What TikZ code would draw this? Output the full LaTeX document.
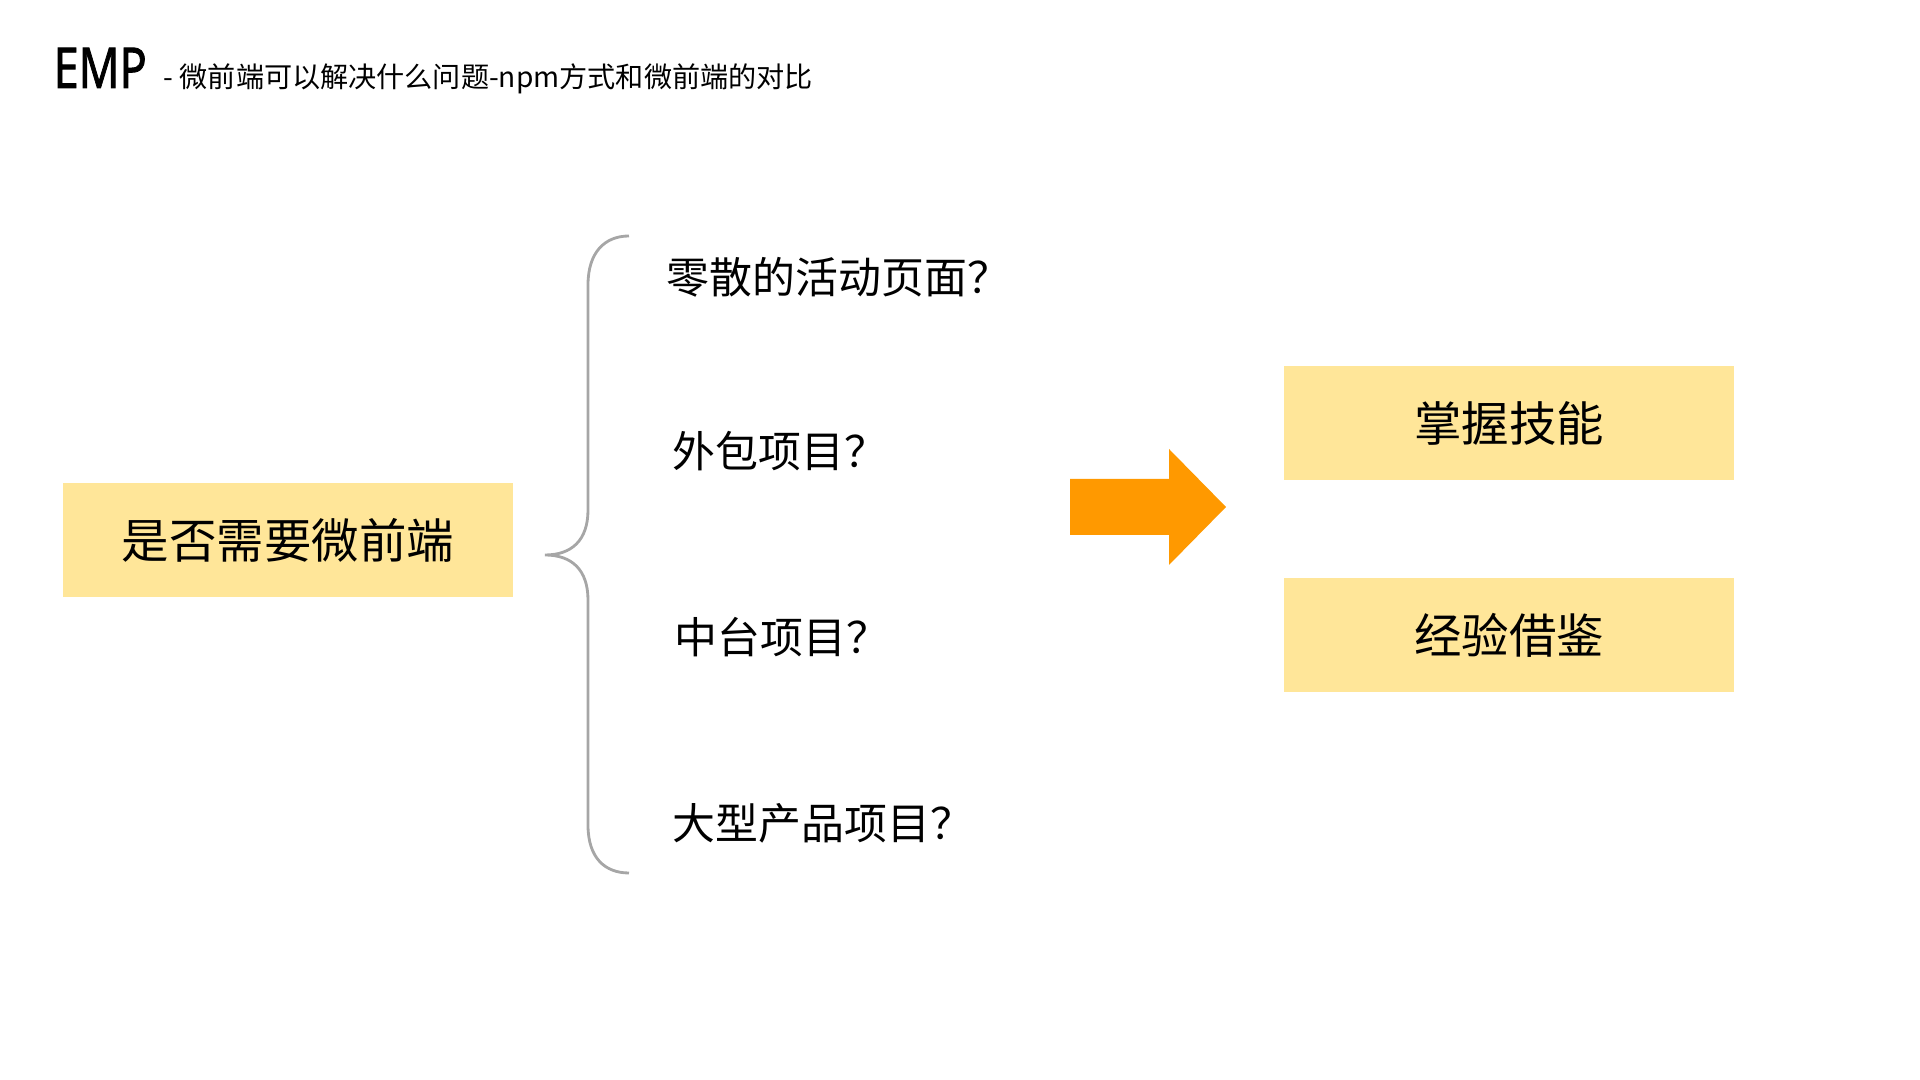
\documentclass[tikz,border=0pt]{standalone}
\usepackage{fontspec}
\setmainfont{Noto Sans CJK SC}
\newfontfamily\titlefont{Noto Sans}[FakeBold=1.6]
\usetikzlibrary{positioning, calc}
\definecolor{boxyellow}{RGB}{255, 230, 153}
\definecolor{arroworange}{RGB}{255, 153, 0}
\definecolor{bracegray}{RGB}{166, 166, 166}

\begin{document}
\begin{tikzpicture}[x=0.01cm, y=-0.01cm,
  keybox/.style={fill=boxyellow, minimum width=4.5cm, minimum height=1.13cm, inner sep=0pt, font=\fontsize{13.5}{16}\selectfont},
  question/.style={anchor=west, inner sep=0pt, font=\fontsize{12.2}{15}\selectfont}]
  \useasboundingbox (0,0) rectangle (1920,1080);

  % title line
  \node[anchor=base west, inner sep=0pt, font=\titlefont\fontsize{16}{18}\selectfont] (emp) at (53,88) {\scalebox{0.8}[1]{EMP}};
  \node[anchor=base west, inner sep=0pt, font=\fontsize{8}{10}\selectfont] (subtitle) at (163,88) {- 微前端可以解决什么问题-npm方式和微前端的对比};

  % left box and brace
  \node[keybox] (need) at (288,540) {是否需要微前端};
  \coordinate (bracetop) at (629,236);
  \coordinate (bracetip) at (545,555);
  \coordinate (bracebot) at (629,873);
  \draw[bracegray, line width=0.8pt] (bracetop) .. controls (605,236) and (588,252) .. (588,285) -- (588,510)
    .. controls (588,540) and (572,555) .. (bracetip) .. controls (572,555) and (588,570) .. (588,600)
    -- (588,825) .. controls (588,858) and (605,873) .. (bracebot);

  % questions
  \node[question] (q1) at (666,277) {零散的活动页面？};
  \node[question] (q2) at (672,451) {外包项目？};
  \node[question] (q3) at (674,637) {中台项目？};
  \node[question] (q4) at (672,823) {大型产品项目？};

  % big arrow
  \fill[arroworange] (1070,479) -- (1169,479) -- (1169,449) -- (1226,507) -- (1169,565) -- (1169,535) -- (1070,535) -- cycle;

  % answers
  \node[keybox] (skill) at (1509,423) {掌握技能};
  \node[keybox] (learn) at (1509,635) {经验借鉴};
\end{tikzpicture}
\end{document}
